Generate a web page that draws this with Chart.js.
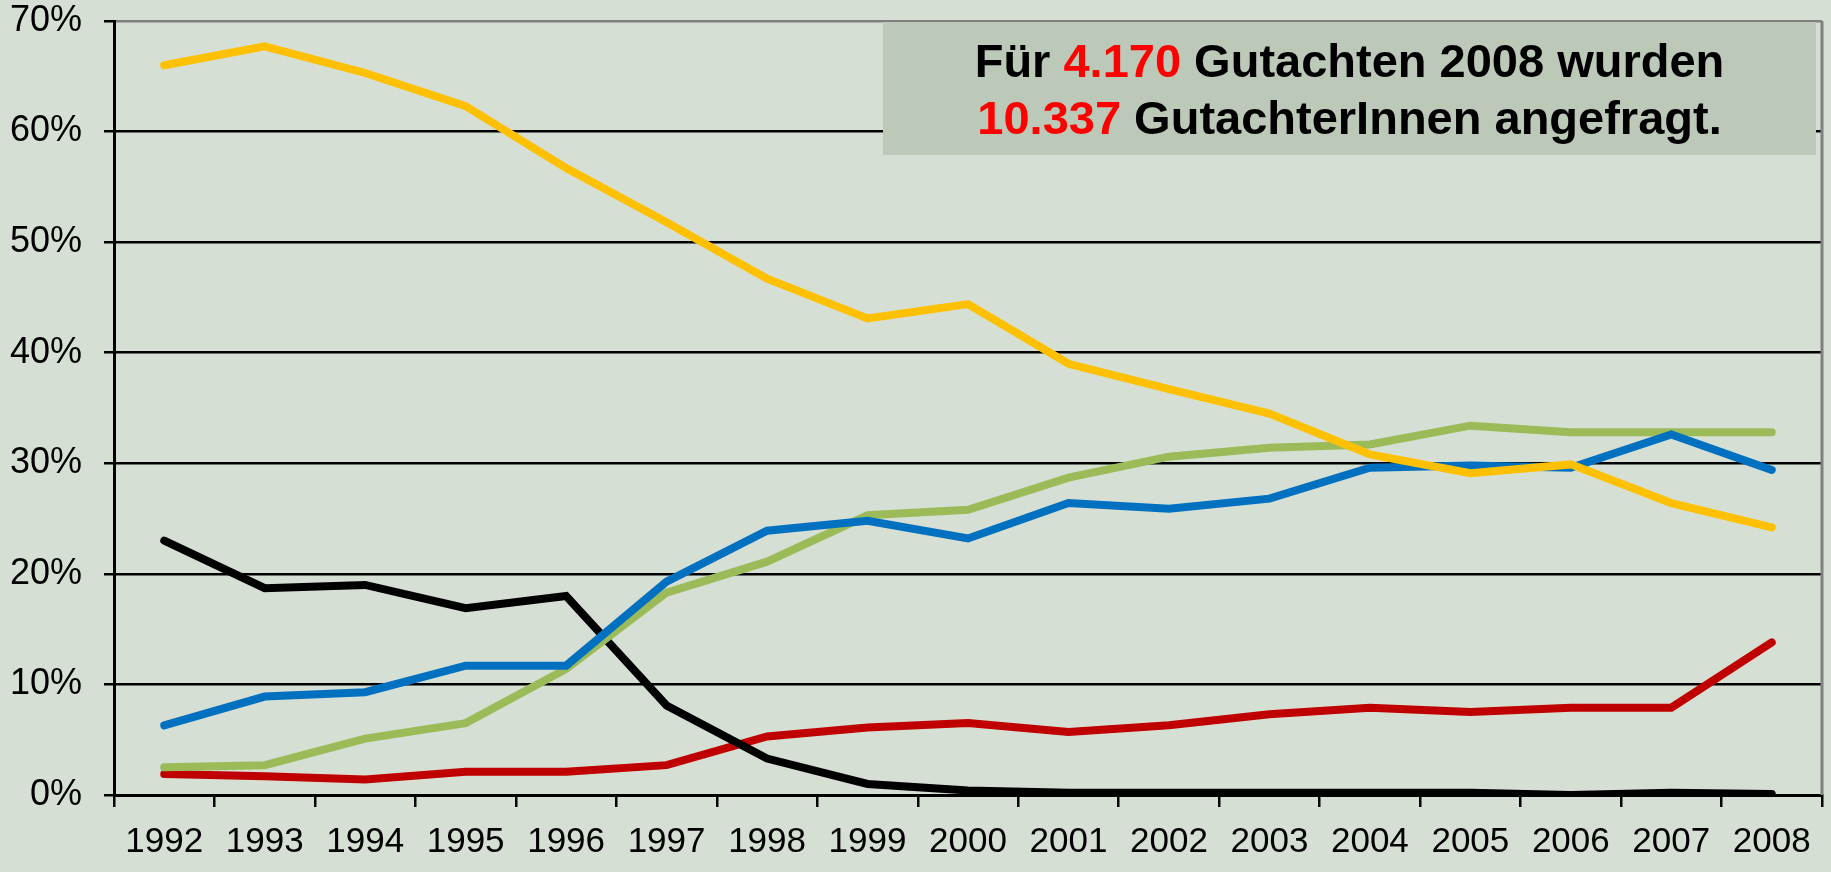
<!DOCTYPE html>
<html>
<head>
<meta charset="utf-8">
<script src="https://cdn.jsdelivr.net/npm/chart.js@4/dist/chart.umd.min.js"></script>
<style>
  html, body { margin: 0; padding: 0; background: #d6dfd4; }
  #wrap { width: 1831px; height: 872px; position: relative; }
</style>
</head>
<body>
<div id="wrap"><canvas id="chart"></canvas></div>
<script>
// categories
const years = ['1992', '1993', '1994', '1995', '1996', '1997', '1998', '1999', '2000',
               '2001', '2002', '2003', '2004', '2005', '2006', '2007', '2008'];

// series values (percent)
const seriesYellow = [66.0, 67.7, 65.3, 62.3, 56.7, 51.8, 46.7, 43.1, 44.4, 39.0, 36.7, 34.5, 30.8, 29.1, 29.9, 26.4, 24.2];
const seriesBlue   = [6.3, 8.9, 9.3, 11.7, 11.7, 19.3, 23.9, 24.8, 23.2, 26.4, 25.9, 26.8, 29.6, 29.8, 29.6, 32.6, 29.4];
const seriesGreen  = [2.5, 2.7, 5.1, 6.5, 11.4, 18.3, 21.1, 25.3, 25.8, 28.7, 30.6, 31.4, 31.7, 33.4, 32.8, 32.8, 32.8];
const seriesBlack  = [23.0, 18.7, 19.0, 16.9, 18.0, 8.1, 3.3, 1.0, 0.4, 0.2, 0.2, 0.2, 0.2, 0.2, 0.0, 0.2, 0.1];
const seriesRed    = [1.9, 1.7, 1.4, 2.1, 2.1, 2.7, 5.3, 6.1, 6.5, 5.7, 6.3, 7.3, 7.9, 7.5, 7.9, 7.9, 13.8];

// y axis ticks
const yMin = 0;
const yMax = 70;
const yStep = 10;

// note box text
const noteLine1 = [['Für ', '#000'], ['4.170', '#ff0000'], [' Gutachten 2008 wurden', '#000']];
const noteLine2 = [['10.337', '#ff0000'], [' GutachterInnen angefragt.', '#000']];

const FONT = '"Liberation Sans", Arial, sans-serif';

function line(data, color) {
    return {
        data: data,
        borderColor: color,
        backgroundColor: color,
        borderWidth: 8,
        pointRadius: 0,
        pointHoverRadius: 0,
        tension: 0,
        fill: false,
        borderCapStyle: 'round',
        borderJoinStyle: 'miter'
    };
}

// plot frame (right edge) and the note box
const framePlugin = {
    id: 'frame',
    afterDraw(chart) {
        const { ctx, chartArea } = chart;
        ctx.save();
        ctx.strokeStyle = '#808080';
        ctx.lineWidth = 3;
        ctx.beginPath();
        ctx.moveTo(chartArea.right, chartArea.top);
        ctx.lineTo(chartArea.right, chartArea.bottom);
        ctx.stroke();

        // note box
        const left = 883, right = chartArea.right - 6, top = chartArea.top + 1, bottom = 155;
        ctx.fillStyle = '#bcc9b8';
        ctx.fillRect(left, top, right - left, bottom - top);

        ctx.font = 'bold 47px ' + FONT;
        ctx.textBaseline = 'alphabetic';
        ctx.textAlign = 'left';
        const cx = (left + right) / 2;
        [[noteLine1, 77], [noteLine2, 134]].forEach(([parts, y]) => {
            const total = parts.reduce((s, p) => s + ctx.measureText(p[0]).width, 0);
            let x = cx - total / 2;
            parts.forEach(([txt, col]) => {
                ctx.fillStyle = col;
                ctx.fillText(txt, x, y);
                x += ctx.measureText(txt).width;
            });
        });
        ctx.restore();
    }
};

new Chart(document.getElementById('chart'), {
    type: 'line',
    data: {
        labels: years,
        datasets: [
            line(seriesYellow, '#ffc000'),
            line(seriesBlue, '#0070c0'),
            line(seriesGreen, '#9bbb59'),
            line(seriesBlack, '#000000'),
            line(seriesRed, '#c00000')
        ]
    },
    options: {
        responsive: true,
        maintainAspectRatio: false,
        animation: false,
        layout: { padding: { top: 21, right: 9, left: 0, bottom: 0 } },
        plugins: {
            legend: { display: false },
            tooltip: { enabled: false }
        },
        scales: {
            x: {
                offset: true,
                grid: {
                    offset: true,
                    drawOnChartArea: false,
                    drawTicks: true,
                    tickLength: 12,
                    color: '#000',
                    tickColor: '#000',
                    lineWidth: 2.5
                },
                border: { display: true, color: '#000', width: 3 },
                ticks: {
                    color: '#000',
                    font: { family: FONT, size: 35 },
                    padding: 14,
                    maxRotation: 0,
                    autoSkip: false
                },
                afterFit(scale) { scale.height = 77; }
            },
            y: {
                min: yMin,
                max: yMax,
                grid: {
                    color: (c) => (c.tick && c.tick.value === yMax ? '#808080' : '#000'),
                    tickColor: '#000',
                    lineWidth: 2.5,
                    tickLength: 10
                },
                border: { display: true, color: '#000', width: 3 },
                ticks: {
                    stepSize: yStep,
                    color: '#000',
                    font: { family: FONT, size: 36 },
                    padding: 22,
                    callback: (v) => v + '%'
                },
                afterFit(scale) {
                    scale.width = 114;
                    scale.paddingTop = 0;
                    scale.paddingBottom = 0;
                }
            }
        }
    },
    plugins: [framePlugin]
});
</script>
</body>
</html>
